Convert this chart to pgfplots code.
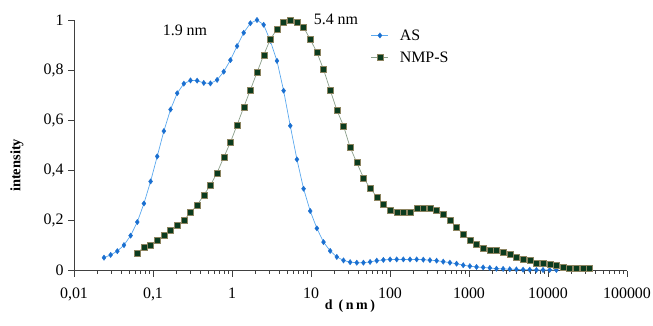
\documentclass[border=0pt]{standalone}
\usepackage{pgfplots}
\pgfplotsset{compat=1.18}
\usepackage{pgfplotstable}
\usepackage{fontspec}
\setmainfont{Liberation Serif}
\definecolor{asline}{HTML}{5AA8EE}
\definecolor{asmark}{HTML}{1A6FD0}
\definecolor{nmline}{HTML}{8A9E8A}
\definecolor{nmmark}{HTML}{0B3B1E}
\definecolor{nmedge}{HTML}{8C8460}
\definecolor{axcol}{HTML}{404040}

\pgfplotstableread{
d I
0.02399 0.052
0.02912 0.063
0.03534 0.078
0.04291 0.102
0.05209 0.140
0.06324 0.194
0.07677 0.268
0.09320 0.356
0.1131 0.456
0.1373 0.557
0.1667 0.643
0.2024 0.708
0.2457 0.746
0.2983 0.759
0.3621 0.758
0.4395 0.749
0.5336 0.747
0.6478 0.761
0.7864 0.794
0.9546 0.840
1.1588 0.896
1.4067 0.949
1.7078 0.987
2.0730 1.000
2.5166 0.981
3.0549 0.917
3.7089 0.837
4.5024 0.718
5.4650 0.578
6.6346 0.444
8.0538 0.327
9.7769 0.238
11.870 0.169
14.408 0.114
17.490 0.079
21.232 0.055
25.774 0.041
31.289 0.034
37.984 0.032
46.108 0.032
55.976 0.035
67.954 0.040
82.491 0.043
100.14 0.045
121.57 0.045
147.57 0.045
179.14 0.045
217.47 0.045
264.0 0.044
320.5 0.042
389.0 0.040
472.3 0.036
573.3 0.032
695.9 0.028
844.8 0.022
1025.6 0.018
1245.1 0.015
1511.3 0.013
1834.6 0.011
2227.1 0.008
2703.9 0.007
3282.3 0.006
3984.6 0.005
4837.0 0.004
5872.0 0.004
7128.5 0.003
8653.6 0.003
10505 0.003
12753 0.003
}\astable

\pgfplotstableread{
d I
0.06324 0.072
0.07677 0.093
0.09320 0.103
0.1131 0.122
0.1373 0.141
0.1667 0.162
0.2024 0.181
0.2457 0.201
0.2983 0.232
0.3621 0.261
0.4395 0.302
0.5336 0.341
0.6478 0.391
0.7864 0.452
0.9546 0.512
1.1588 0.581
1.4067 0.652
1.7078 0.721
2.0730 0.791
2.5166 0.860
3.0549 0.923
3.7089 0.963
4.5024 0.991
5.4650 1.000
6.6346 0.991
8.0538 0.971
9.7769 0.923
11.870 0.871
14.408 0.803
17.490 0.721
21.232 0.641
25.774 0.578
31.289 0.492
37.984 0.431
46.108 0.371
55.976 0.329
67.954 0.295
82.491 0.265
100.14 0.242
121.57 0.233
147.57 0.233
179.14 0.233
217.47 0.251
264.0 0.251
320.5 0.251
389.0 0.242
472.3 0.225
573.3 0.202
695.9 0.172
844.8 0.146
1025.6 0.122
1245.1 0.105
1511.3 0.089
1834.6 0.083
2227.1 0.080
2703.9 0.075
3282.3 0.067
3984.6 0.056
4837.0 0.045
5872.0 0.043
7128.5 0.032
8653.6 0.032
10505 0.026
12753 0.023
15481 0.016
18793 0.012
22814 0.012
27695 0.012
33620 0.012
}\nmtable

\begin{document}
\begin{tikzpicture}
\path[use as bounding box] (-74bp,-55.3bp) rectangle (579bp,270.7bp);
\begin{axis}[
  at={(0,0)}, anchor=south west,
  scale only axis,
  width=553bp, height=250.7bp,
  xmode=log,
  xmin=0.01, xmax=100000,
  ymin=0, ymax=1,
  axis lines*=left,
  axis line style={axcol, line width=0.8pt},
  every tick/.style={axcol, line width=0.8pt},
  tick align=outside,
  major tick length=6bp,
  minor tick num=0,
  xtick={0.01,0.1,1,10,100,1000,10000,100000},
  xticklabels={{0,01},{0,1},1,10,100,1000,10000,100000},
  ytick={0,0.2,0.4,0.6,0.8,1},
  yticklabels={0,{0,2},{0,4},{0,6},{0,8},1},
  tick label style={font=\fontsize{16}{18}\selectfont},
  /pgf/number format/assume math mode=true,
  xticklabel style={yshift=-8bp},
  yticklabel style={xshift=-1bp},
  xlabel={\fontsize{14}{16}\selectfont\bfseries\addfontfeatures{LetterSpace=18}d (nm)},
  ylabel={\fontsize{14.5}{16}\selectfont\bfseries intensity},
  xlabel style={at={(rel axis cs:0.499,-0.14)}, anchor=center},
  ylabel style={at={(rel axis cs:-0.103,0.42)}, anchor=center},
  clip=false,
  legend style={draw=none, fill=none, at={(rel axis cs:0.535,0.975)}, anchor=north west,
    font=\fontsize{16}{18}\selectfont, row sep=6bp, column sep=9bp, inner sep=1bp},
  legend cell align=left,
]
\addplot[asline, line width=0.7pt, mark=diamond*, mark size=2.7bp,
  mark options={fill=asmark, draw=asmark, line width=0.3pt}] table[x=d, y=I] {\astable};
\addlegendentry{AS}
\addplot[nmline, line width=0.7pt, mark=square*, mark size=3bp,
  mark options={fill=nmmark, draw=nmedge, line width=0.3pt}] table[x=d, y=I] {\nmtable};
\addlegendentry{NMP-S}
\node[font=\fontsize{16}{18}\selectfont] at (axis cs:0.254,0.96) {1.9 nm};
\node[font=\fontsize{16}{18}\selectfont] at (axis cs:20.7,1.004) {5.4 nm};
\end{axis}
\end{tikzpicture}
\end{document}
